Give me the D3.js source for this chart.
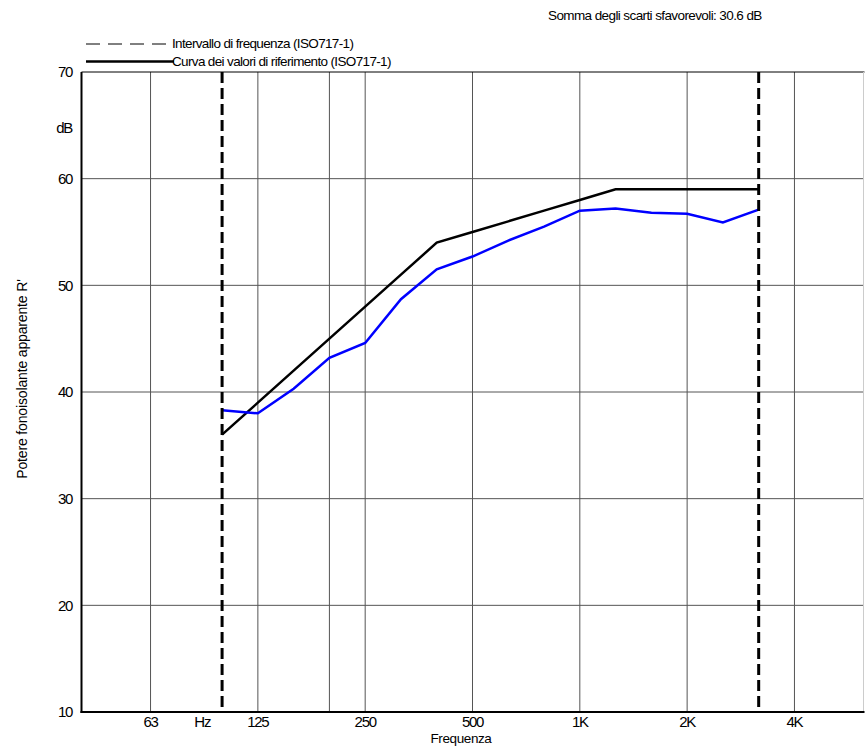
<!DOCTYPE html>
<html>
<head>
<meta charset="utf-8">
<script src="https://cdn.jsdelivr.net/npm/d3@7"></script>
<style>
  html, body { margin: 0; padding: 0; background: #fff; }
  svg text { font-family: "Liberation Sans", Arial, sans-serif; fill: #000; }
</style>
</head>
<body>
<svg id="chart" width="865" height="747"></svg>
<script>
// One-third octave bands (index 0 = 100 Hz)
const bands = ["100","125","160","200","250","315","400","500","630","800","1000","1250","1600","2000","2500","3150"];
const measured = [38.3, 38.0, 40.3, 43.2, 44.6, 48.7, 51.5, 52.7, 54.2, 55.5, 57.0, 57.2, 56.8, 56.7, 55.9, 57.1];
const reference = [36, 39, 42, 45, 48, 51, 54, 55, 56, 57, 58, 59, 59, 59, 59, 59];
// vertical grid lines (band index) and x tick labels
const gridBands = [-2, 1, 3, 4, 7, 10, 13, 16];
const xTickIdx = [-2, 1, 4, 7, 10, 13, 16];
const xTickLabels = ["63", "125", "250", "500", "1K", "2K", "4K"];
const yTicks = [10, 20, 30, 40, 50, 60, 70];
const rangeBands = [0, 15]; // 100 Hz - 3150 Hz
const sumText = "Somma degli scarti sfavorevoli: 30.6 dB";
const legendItems = ["Intervallo di frequenza (ISO717-1)", "Curva dei valori di riferimento (ISO717-1)"];

const svg = d3.select("#chart");
const L = 81.5, R = 863.5, T = 72, B = 712;
const x = d3.scaleLinear().domain([-3.93, 17.93]).range([L, R]);
const y = d3.scaleLinear().domain([10, 70]).range([B, T]);

// horizontal grid
svg.append("g").selectAll("line").data(yTicks.filter(d => d > 10 && d < 70)).join("line")
  .attr("x1", L).attr("x2", R).attr("y1", d => y(d)).attr("y2", d => y(d))
  .attr("stroke", "#555").attr("stroke-width", 1);
// vertical grid
svg.append("g").selectAll("line").data(gridBands).join("line")
  .attr("x1", d => x(d)).attr("x2", d => x(d)).attr("y1", T).attr("y2", B)
  .attr("stroke", "#555").attr("stroke-width", 1);

// frame
svg.append("line").attr("x1", L).attr("x2", R + 1).attr("y1", y(70)).attr("y2", y(70)).attr("stroke", "#000").attr("stroke-width", 1);
svg.append("line").attr("x1", R).attr("x2", R).attr("y1", T).attr("y2", B).attr("stroke", "#ccc").attr("stroke-width", 1);
svg.append("line").attr("x1", L).attr("x2", L).attr("y1", T).attr("y2", B + 1).attr("stroke", "#000").attr("stroke-width", 2);
svg.append("line").attr("x1", L - 1).attr("x2", R + 1).attr("y1", B).attr("y2", B).attr("stroke", "#000").attr("stroke-width", 2);

// y tick labels
svg.append("g").selectAll("text").data(yTicks).join("text")
  .attr("x", 72).attr("y", d => y(d)).attr("dy", "0.36em")
  .attr("text-anchor", "end").attr("font-size", 15).attr("letter-spacing", "-1.3px")
  .text(d => d);
svg.append("text").attr("x", 72).attr("y", y(64.8)).attr("dy", "0.36em")
  .attr("text-anchor", "end").attr("font-size", 15).attr("letter-spacing", "-1.3px").text("dB");

// x tick labels
svg.append("g").selectAll("text").data(xTickIdx).join("text")
  .attr("x", (d) => x(d)).attr("y", 727)
  .attr("text-anchor", "middle").attr("font-size", 15).attr("letter-spacing", "-1.3px")
  .text((d, i) => xTickLabels[i]);
svg.append("text").attr("x", x(-0.55)).attr("y", 727).attr("text-anchor", "middle")
  .attr("font-size", 15).attr("letter-spacing", "-1px").text("Hz");

// axis titles
svg.append("text").attr("x", 461).attr("y", 743).attr("text-anchor", "middle")
  .attr("font-size", 13.5).attr("letter-spacing", "-0.4px").text("Frequenza");
svg.append("text").attr("transform", "translate(27,379) rotate(-90)").attr("text-anchor", "middle")
  .attr("font-size", 14).attr("letter-spacing", "-0.15px").text("Potere fonoisolante apparente R'");

// curves
const line = d3.line().x((d, i) => x(i)).y(d => y(d));
svg.append("path").datum(reference).attr("d", line)
  .attr("fill", "none").attr("stroke", "#000").attr("stroke-width", 2.5);
svg.append("path").datum(measured).attr("d", line)
  .attr("fill", "none").attr("stroke", "#0000ff").attr("stroke-width", 2.5);

// frequency range dashed lines
svg.append("g").selectAll("line").data(rangeBands).join("line")
  .attr("x1", d => x(d)).attr("x2", d => x(d)).attr("y1", T).attr("y2", B)
  .attr("stroke", "#000").attr("stroke-width", 3).attr("stroke-dasharray", "11,5");

// legend
svg.append("line").attr("x1", 86).attr("x2", 168).attr("y1", 44).attr("y2", 44)
  .attr("stroke", "#000").attr("stroke-width", 1).attr("stroke-dasharray", "14,8");
svg.append("line").attr("x1", 86).attr("x2", 174).attr("y1", 61.5).attr("y2", 61.5)
  .attr("stroke", "#000").attr("stroke-width", 2.5);
svg.append("g").selectAll("text").data(legendItems).join("text")
  .attr("x", 172).attr("y", (d, i) => 43.5 + i * 17.5).attr("dy", "0.36em")
  .attr("font-size", 13.5).attr("letter-spacing", "-0.65px").text(d => d);

// summary
svg.append("text").attr("x", 548).attr("y", 15).attr("dy", "0.36em")
  .attr("font-size", 13.5).attr("letter-spacing", "-0.6px").text(sumText);
</script>
</body>
</html>
